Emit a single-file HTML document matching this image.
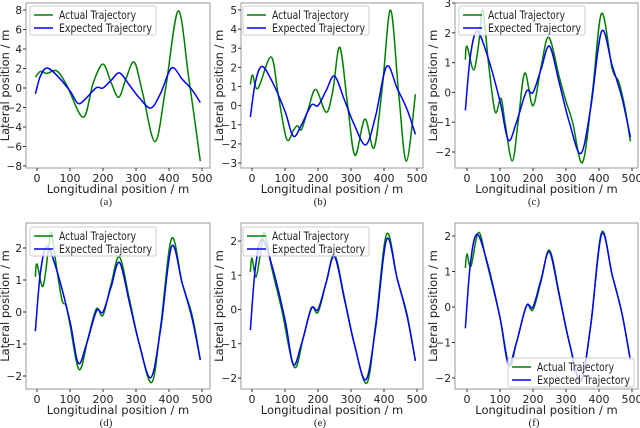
<!DOCTYPE html>
<html><head><meta charset="utf-8">
<style>
body{margin:0;background:#fff;width:640px;height:428px;overflow:hidden}
svg{display:block}
text{font-family:"DejaVu Sans","Liberation Sans",sans-serif;fill:#222}
.cap{font-family:"Liberation Serif",serif;font-size:11px}
</style></head><body>
<svg id="fig" width="640" height="428" viewBox="0 0 640 428"></svg>
<script>
const expectedX=[-5,10,30,60,100,125,150,180,200,225,250,280,310,345,375,408,440,470,495];
const expectedY=[-0.6,1.2,2.05,1.3,-0.3,-1.6,-1.0,0.03,0.0,0.8,1.55,0.3,-1.0,-2.05,-0.5,2.05,0.9,-0.2,-1.5];
const actualAX=[-5,10,30,60,90,140,170,200,225,248,270,295,320,358,390,428,460,495];
const actualAY=[1.1,1.7,1.5,1.75,0.3,-3.0,0.5,2.45,0.5,-0.95,1.0,2.65,-0.5,-5.5,0,7.9,1,-7.5];
const actualBX=[-5,2,18,58,80,105,125,137,150,170,193,225,245,266,290,312,342,370,395,420,445,468,495];
const actualBY=[1.1,1.6,0.9,2.55,0.5,-1.75,-1.3,-1.05,-1.25,-0.2,0.85,-0.35,0.8,3.05,0,-2.6,-0.7,-2.2,1,5.0,0.5,-2.9,0.6];
const actualCX=[-5,0,20,35,48,65,85,103,115,137,155,175,200,225,248,280,300,320,350,380,408,440,460,480,495];
const actualCY=[1.1,1.55,0.75,1.6,2.75,1.0,-0.65,-0.2,-1,-2.3,-1.0,0.65,-0.45,0.9,1.85,0.5,-0.3,-1.0,-2.35,0,2.65,0.8,0.35,-0.6,-1.65];
const actualDX=[-5,0,18,35,43,55,75,88,100,128,155,180,200,225,250,280,310,348,375,408,440,470,495];
const actualDY=[1.1,1.5,0.8,2.0,2.5,1.7,0.4,0.2,-0.4,-1.8,-0.8,0.1,-0.1,0.9,1.72,0.4,-1.0,-2.2,-0.4,2.3,0.9,-0.1,-1.5];
const actualEX=[-5,0,12,25,38,60,90,128,155,180,200,225,250,280,310,348,375,408,440,470,495];
const actualEY=[1.1,1.5,0.95,1.6,2.25,1.2,0,-1.68,-0.85,0.05,-0.08,0.8,1.6,0.35,-1.0,-2.15,-0.4,2.2,0.9,-0.15,-1.5];
const actualFX=[-5,0,12,35,60,100,128,150,180,200,225,250,280,310,345,375,408,440,470,495];
const actualFY=[1.1,1.5,1.15,2.1,1.25,-0.3,-1.65,-1.0,0.03,-0.08,0.75,1.6,0.35,-1.0,-2.1,-0.5,2.1,0.9,-0.2,-1.5];
const xTicks=[0,100,200,300,400,500];
const yTicksA=[-8,-6,-4,-2,0,2,4,6,8];
const yTicksB=[-3,-2,-1,0,1,2,3,4,5];
const yTicksC=[-2,-1,0,1,2,3];
const yTicksDEF=[-2,-1,0,1,2];

const NS="http://www.w3.org/2000/svg";
const svg=document.getElementById('fig');
function mk(tag,attrs,parent){const e=document.createElementNS(NS,tag);for(const k in attrs)e.setAttribute(k,attrs[k]);(parent||svg).appendChild(e);return e;}
function spline(pts){let d=`M${pts[0][0]},${pts[0][1]}`;for(let i=0;i<pts.length-1;i++){const p0=pts[i-1]||pts[i],p1=pts[i],p2=pts[i+1],p3=pts[i+2]||p2;const c1=[p1[0]+(p2[0]-p0[0])/6,p1[1]+(p2[1]-p0[1])/6],c2=[p2[0]-(p3[0]-p1[0])/6,p2[1]-(p3[1]-p1[1])/6];d+=`C${c1[0].toFixed(1)},${c1[1].toFixed(1)} ${c2[0].toFixed(1)},${c2[1].toFixed(1)} ${p2[0].toFixed(1)},${p2[1].toFixed(1)}`;}return d;}

const panels=[
 {id:'a',left:26,right:210,top:3,bottom:168,x0:37,x500:202,yv1:8,yp1:10,yv2:-8,yp2:166,yt:yTicksA,ax:actualAX,ay:actualAY,ylx:5,leg:[30,6],cap:106},
 {id:'b',left:241,right:423,top:3,bottom:168,x0:252,x500:417,yv1:5,yp1:10,yv2:-3,yp2:163,yt:yTicksB,ax:actualBX,ay:actualBY,ylx:219,leg:[243,6],cap:320},
 {id:'c',left:455,right:638,top:3,bottom:168,x0:467,x500:632,yv1:3,yp1:3,yv2:-2,yp2:152,yt:yTicksC,ax:actualCX,ay:actualCY,ylx:433,leg:[459,6],cap:534},
 {id:'d',left:26,right:210,top:223,bottom:389,x0:37,x500:202,yv1:2,yp1:248,yv2:-2,yp2:376,yt:yTicksDEF,ax:actualDX,ay:actualDY,ylx:5,leg:[30,227],cap:106},
 {id:'e',left:241,right:423,top:223,bottom:389,x0:252,x500:417,yv1:2,yp1:241,yv2:-2,yp2:378,yt:yTicksDEF,ax:actualEX,ay:actualEY,ylx:219,leg:[243,227],cap:320},
 {id:'f',left:455,right:638,top:223,bottom:389,x0:467,x500:632,yv1:2,yp1:236,yv2:-2,yp2:378,yt:yTicksDEF,ax:actualFX,ay:actualFY,ylx:433,leg:[508,358],cap:534}
];
panels.forEach(p=>{
 const g=mk('g',{});
 
 
 const sx=v=>p.x0+(p.x500-p.x0)*v/500;
 const sy=v=>p.yp1+(p.yp2-p.yp1)*(v-p.yv1)/(p.yv2-p.yv1);
 const frame=mk('rect',{x:p.left,y:p.top,width:p.right-p.left,height:p.bottom-p.top,fill:'#fff',stroke:'#999','stroke-width':1},g);
 
 
 xTicks.forEach(t=>{const x=sx(t);mk('line',{x1:x,x2:x,y1:p.bottom,y2:p.bottom+3,stroke:'#333'},g);
  const tx=mk('text',{x:x,y:p.bottom+14,'font-size':11,'text-anchor':'middle'},g);tx.textContent=t;
  
  });
 p.yt.forEach(t=>{const y=sy(t);mk('line',{x1:p.left-3,x2:p.left,y1:y,y2:y,stroke:'#333'},g);
  const tx=mk('text',{x:p.left-4,y:y+4,'font-size':10.5,'text-anchor':'end'},g);tx.textContent=(t<0?'\u2212'+(-t):t);
  
  });
 const xl=mk('text',{x:(p.left+p.right)/2,y:p.bottom+25,'font-size':11.5,'text-anchor':'middle'},g);xl.textContent='Longitudinal position / m';
 
 
 const yc=(p.top+p.bottom)/2;
 const yl=mk('text',{x:p.ylx+4,y:yc,'font-size':11.5,'text-anchor':'middle',transform:`rotate(-90 ${p.ylx+4} ${yc})`},g);yl.textContent='Lateral position / m';
 
 
 const clip=mk('clipPath',{id:'clip'+p.id},g);mk('rect',{x:p.left,y:p.top,width:p.right-p.left,height:p.bottom-p.top},clip);
 const ga=mk('path',{d:spline(p.ax.map((v,i)=>[sx(v),sy(p.ay[i])])),fill:'none',stroke:'#008000','stroke-width':1.5,'clip-path':`url(#clip${p.id})`},g);
 
 
 const ge=mk('path',{d:spline(expectedX.map((v,i)=>[sx(v),sy(expectedY[i])])),fill:'none',stroke:'#0000ff','stroke-width':1.5,'clip-path':`url(#clip${p.id})`},g);
 
 
 const lg=mk('g',{},g);
 
 
 const [lx,ly]=p.leg;
 mk('rect',{x:lx,y:ly,width:126,height:29,fill:'rgba(255,255,255,0.8)',stroke:'#ccc',rx:2},lg);
 [['#008000','Actual Trajectory',77],['#0000ff','Expected Trajectory',93]].forEach((e,i)=>{
  const y=ly+9+i*13;
  mk('line',{x1:lx+4,x2:lx+23,y1:y,y2:y,stroke:e[0],'stroke-width':1.5},lg);
  const t=mk('text',{x:lx+29,y:y+4,'font-size':11.5,textLength:e[2],lengthAdjust:'spacingAndGlyphs'},lg);t.textContent=e[1];
  
  
 });
 const cp=mk('text',{x:p.cap,y:p.bottom+37,'text-anchor':'middle','class':'cap'},g);cp.textContent='('+p.id+')';
 
 
});
</script>
</body></html>
